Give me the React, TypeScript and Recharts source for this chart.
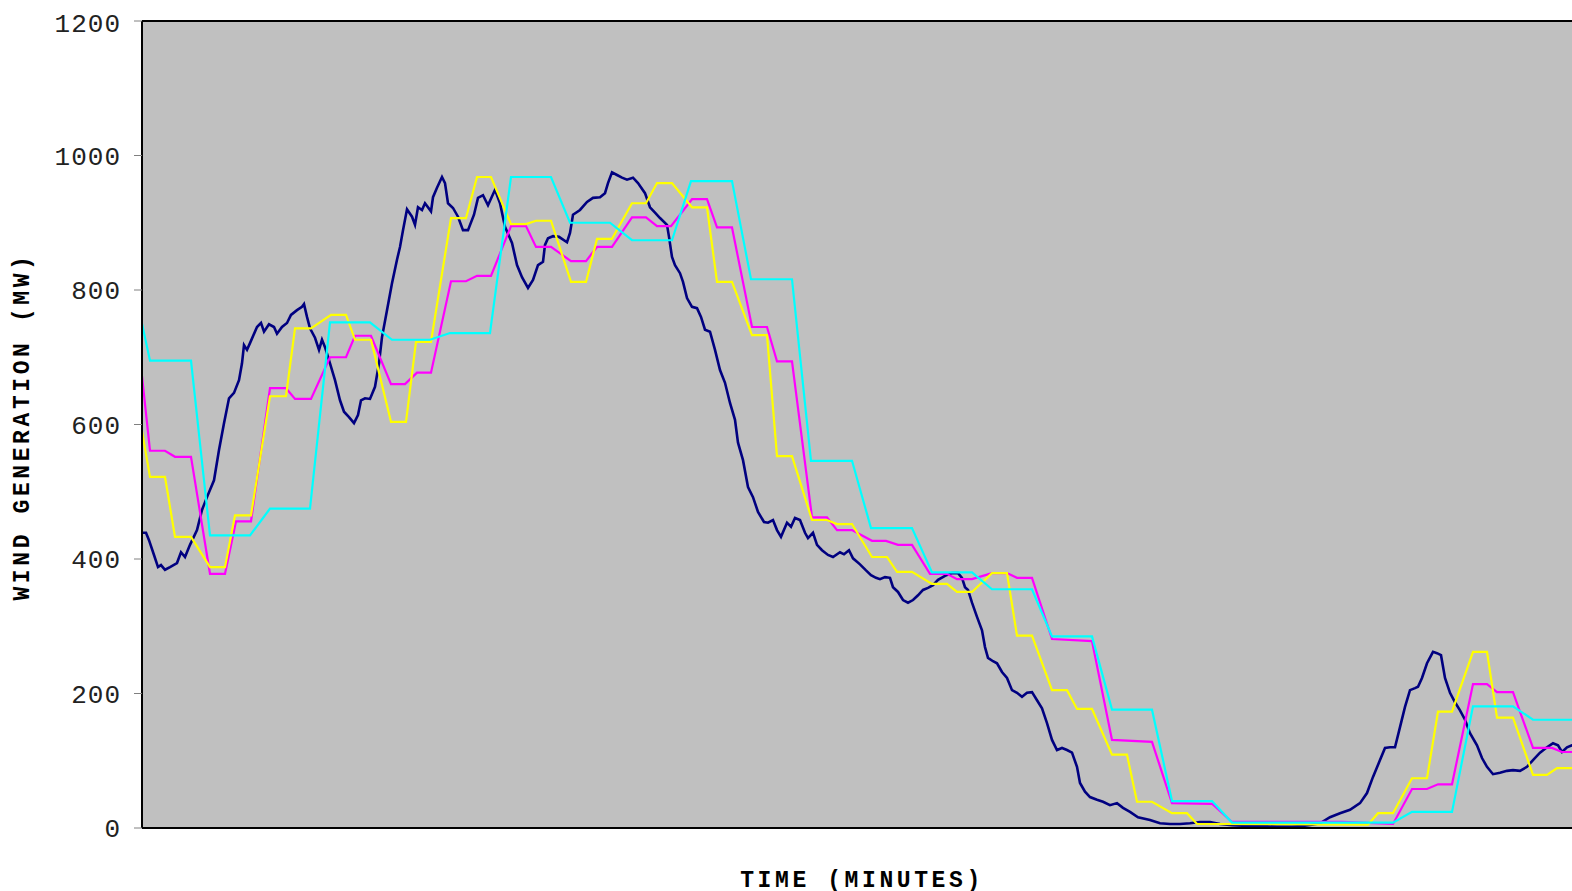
import { LineChart, Line, XAxis, YAxis, CartesianGrid, ReferenceLine } from "recharts"

// [minute, MW] pairs
const actual: [number, number][] = [
    [0, 439], [4, 439], [7, 428], [12, 406], [16, 388], [19, 391], [23, 384], [28, 388], [35, 394], [39, 410],
    [43, 403], [48, 421], [55, 443], [60, 473], [65, 492], [72, 517], [77, 562], [82, 602], [87, 639], [92, 647],
    [97, 666], [100, 691], [102, 718], [105, 711], [108, 721], [115, 745], [119, 751], [122, 738], [127, 749], [132, 745],
    [135, 735], [140, 745], [145, 751], [149, 763], [155, 770], [160, 775], [162, 779], [165, 760], [168, 743], [173, 729],
    [177, 711], [180, 726], [183, 715], [188, 691], [193, 666], [198, 636], [202, 619], [207, 611], [212, 602], [216, 614],
    [219, 636], [223, 639], [228, 638], [233, 656], [237, 691], [240, 730], [245, 770], [250, 810], [255, 845], [258, 864],
    [261, 889], [265, 920], [270, 909], [273, 897], [276, 923], [280, 919], [283, 929], [289, 917], [291, 938], [295, 952],
    [300, 968], [303, 959], [306, 929], [311, 922], [316, 909], [321, 889], [326, 889], [332, 912], [336, 937], [341, 941],
    [346, 926], [353, 949], [358, 929], [363, 894], [370, 870], [375, 837], [380, 819], [386, 803], [391, 815], [396, 837],
    [401, 842], [403, 867], [406, 877], [411, 880], [417, 879], [425, 871], [428, 885], [431, 912], [438, 919], [445, 931],
    [451, 937], [458, 938], [463, 944], [466, 959], [470, 975], [475, 971], [480, 967], [485, 964], [491, 967], [496, 959],
    [503, 944], [508, 923], [513, 915], [518, 907], [525, 897], [527, 879], [530, 849], [533, 837], [538, 825], [541, 812],
    [545, 788], [550, 775], [555, 773], [559, 760], [563, 741], [568, 738], [573, 711], [578, 681], [583, 662], [588, 632],
    [593, 607], [596, 573], [601, 547], [606, 507], [611, 492], [616, 470], [622, 455], [626, 454], [631, 458], [635, 443],
    [639, 433], [645, 454], [649, 448], [653, 461], [658, 458], [663, 439], [666, 431], [671, 439], [675, 421], [680, 413],
    [686, 406], [691, 403], [698, 410], [702, 407], [707, 413], [711, 401], [718, 392], [724, 383], [729, 376], [734, 372],
    [738, 370], [743, 373], [748, 372], [751, 358], [756, 351], [761, 339], [766, 335], [771, 339], [776, 346], [781, 354],
    [786, 357], [791, 361], [796, 369], [803, 375], [810, 379], [816, 379], [820, 372], [823, 358], [826, 354], [830, 335],
    [835, 314], [840, 294], [843, 269], [846, 253], [851, 248], [855, 245], [860, 232], [865, 223], [870, 205], [875, 201],
    [880, 195], [885, 201], [890, 202], [895, 190], [900, 178], [905, 156], [910, 131], [915, 116], [920, 119], [925, 116],
    [930, 112], [935, 91], [938, 67], [943, 54], [948, 46], [955, 42], [961, 39], [968, 34], [975, 37], [981, 30],
    [988, 24], [996, 16], [1008, 12], [1018, 7], [1028, 6], [1038, 6], [1048, 7], [1058, 9], [1068, 9], [1078, 6],
    [1090, 4], [1105, 3], [1120, 3], [1135, 2], [1150, 2], [1161, 3], [1170, 5], [1178, 7], [1188, 16], [1198, 22],
    [1208, 27], [1218, 37], [1225, 52], [1231, 76], [1238, 101], [1243, 119], [1248, 120], [1253, 120], [1258, 150], [1263, 180],
    [1268, 205], [1273, 208], [1276, 210], [1280, 223], [1285, 245], [1291, 262], [1295, 260], [1299, 257], [1303, 223], [1308, 201],
    [1313, 187], [1318, 175], [1323, 161], [1328, 141], [1335, 123], [1340, 104], [1345, 91], [1351, 80], [1358, 82], [1365, 85],
    [1371, 86], [1378, 85], [1385, 91], [1391, 101], [1398, 112], [1405, 120], [1411, 126], [1416, 123], [1420, 113], [1425, 120],
    [1430, 123], [1440, 126],
]

const forecastA: [number, number][] = [
    [0, 672], [8, 561], [23, 561], [33, 552], [49, 552], [68, 378], [83, 378], [94, 456], [109, 456], [128, 654],
    [144, 654], [153, 638], [169, 638], [188, 700], [204, 700], [213, 732], [229, 732], [249, 660], [263, 660], [275, 677],
    [289, 677], [309, 813], [324, 813], [335, 821], [349, 821], [369, 895], [384, 895], [394, 864], [409, 864], [429, 843],
    [444, 843], [455, 864], [470, 864], [490, 908], [504, 908], [515, 895], [529, 895], [550, 935], [565, 935], [575, 893],
    [590, 893], [610, 745], [625, 745], [635, 694], [650, 694], [670, 462], [685, 462], [695, 443], [710, 443], [730, 427],
    [744, 427], [756, 421], [770, 421], [788, 378], [805, 378], [815, 370], [830, 370], [850, 379], [865, 379], [875, 372],
    [890, 372], [910, 281], [950, 278], [970, 131], [1010, 128], [1030, 37], [1070, 36], [1090, 9], [1200, 9], [1251, 6],
    [1270, 58], [1285, 58], [1296, 65], [1310, 65], [1331, 214], [1345, 214], [1355, 202], [1371, 202], [1391, 119], [1410, 119],
    [1420, 113], [1440, 113],
]

const forecastB: [number, number][] = [
    [0, 590], [8, 522], [23, 522], [33, 433], [49, 433], [68, 388], [83, 388], [93, 465], [109, 465], [128, 642],
    [144, 642], [153, 743], [169, 743], [189, 763], [204, 763], [213, 726], [229, 726], [249, 604], [264, 604], [274, 723],
    [289, 723], [309, 907], [324, 907], [335, 968], [349, 968], [369, 898], [384, 898], [394, 903], [409, 903], [429, 812],
    [444, 812], [455, 876], [470, 876], [490, 929], [504, 929], [515, 959], [530, 959], [550, 923], [565, 923], [575, 812],
    [590, 812], [610, 733], [625, 733], [635, 553], [650, 553], [670, 458], [685, 458], [695, 452], [710, 452], [730, 403],
    [745, 403], [755, 381], [770, 381], [790, 363], [805, 363], [815, 351], [830, 351], [850, 379], [865, 379], [875, 286],
    [890, 286], [910, 205], [925, 205], [935, 177], [950, 177], [970, 109], [985, 109], [995, 39], [1010, 39], [1030, 22],
    [1045, 22], [1055, 6], [1226, 5], [1236, 22], [1251, 22], [1270, 74], [1285, 74], [1296, 173], [1310, 173], [1331, 262],
    [1345, 262], [1355, 164], [1371, 164], [1391, 79], [1405, 79], [1415, 89], [1440, 89],
]

const forecastC: [number, number][] = [
    [0, 750], [8, 695], [49, 695], [68, 435], [108, 435], [128, 475], [168, 475], [188, 752], [228, 752], [250, 726],
    [288, 726], [308, 736], [348, 736], [369, 968], [409, 968], [428, 900], [468, 900], [490, 874], [530, 874], [549, 962],
    [590, 962], [609, 816], [650, 816], [669, 546], [710, 546], [729, 446], [770, 446], [790, 380], [830, 380], [850, 355],
    [890, 355], [910, 285], [950, 285], [970, 176], [1010, 176], [1030, 40], [1070, 40], [1090, 8], [1251, 8], [1270, 24],
    [1310, 24], [1331, 181], [1371, 181], [1391, 161], [1440, 161],
]

const yTicks = [0, 200, 400, 600, 800, 1000, 1200]

const toRows = (pts: [number, number][]) => pts.map(([t, v]) => ({ t, v }))

const mono = "'Liberation Mono', 'Courier New', monospace"

const titleStyle = {
    position: "absolute" as const,
    fontFamily: mono,
    fontWeight: "bold" as const,
    fontSize: 23,
    letterSpacing: 3.6,
    lineHeight: "23px",
    color: "#000",
    textAlign: "center" as const,
    whiteSpace: "nowrap" as const,
}

const App = () => {
    return <div style={{ position: "relative", width: 1600, height: 883 }}>
        {/* chart runs past the right edge like the original, keep scrollbars away and don't clip at the body */}
        <style>{"html{overflow:hidden}body{overflow:visible!important;margin-right:0!important}"}</style>
        <LineChart width={1600} height={883} margin={{ top: 13, right: 26, left: 0, bottom: 33 }}>
            <CartesianGrid horizontal={false} vertical={false} fill="#C0C0C0" fillOpacity={1} />
            <XAxis type="number" dataKey="t" domain={[0, 1440]} height={30} tick={false} tickLine={false}
                axisLine={{ stroke: "#000", strokeWidth: 2 }} allowDataOverflow />
            <YAxis type="number" domain={[0, 1200]} ticks={yTicks} width={134} tickSize={8} tickMargin={13}
                axisLine={{ stroke: "#000", strokeWidth: 2 }} tickLine={{ stroke: "#808080" }}
                tick={{ fill: "#222", fontSize: 26, fontFamily: mono, letterSpacing: 1 }} />
            <ReferenceLine y={1200} stroke="#000" strokeWidth={2} />
            <Line data={toRows(actual)} dataKey="v" type="linear" stroke="#000080" strokeWidth={2.6} dot={false} isAnimationActive={false} />
            <Line data={toRows(forecastA)} dataKey="v" type="linear" stroke="#FF00FF" strokeWidth={2.2} dot={false} isAnimationActive={false} />
            <Line data={toRows(forecastB)} dataKey="v" type="linear" stroke="#FFFF00" strokeWidth={2.2} dot={false} isAnimationActive={false} />
            <Line data={toRows(forecastC)} dataKey="v" type="linear" stroke="#00FFFF" strokeWidth={2.2} dot={false} isAnimationActive={false} />
        </LineChart>
        <div style={{ ...titleStyle, left: 654, width: 400, top: 862 }}>TIME (MINUTES)</div>
        <div style={{ ...titleStyle, left: 15 - 250, width: 500, top: 418 - 11, transform: "rotate(-90deg)" }}>WIND GENERATION (MW)</div>
    </div>
}

export default App
